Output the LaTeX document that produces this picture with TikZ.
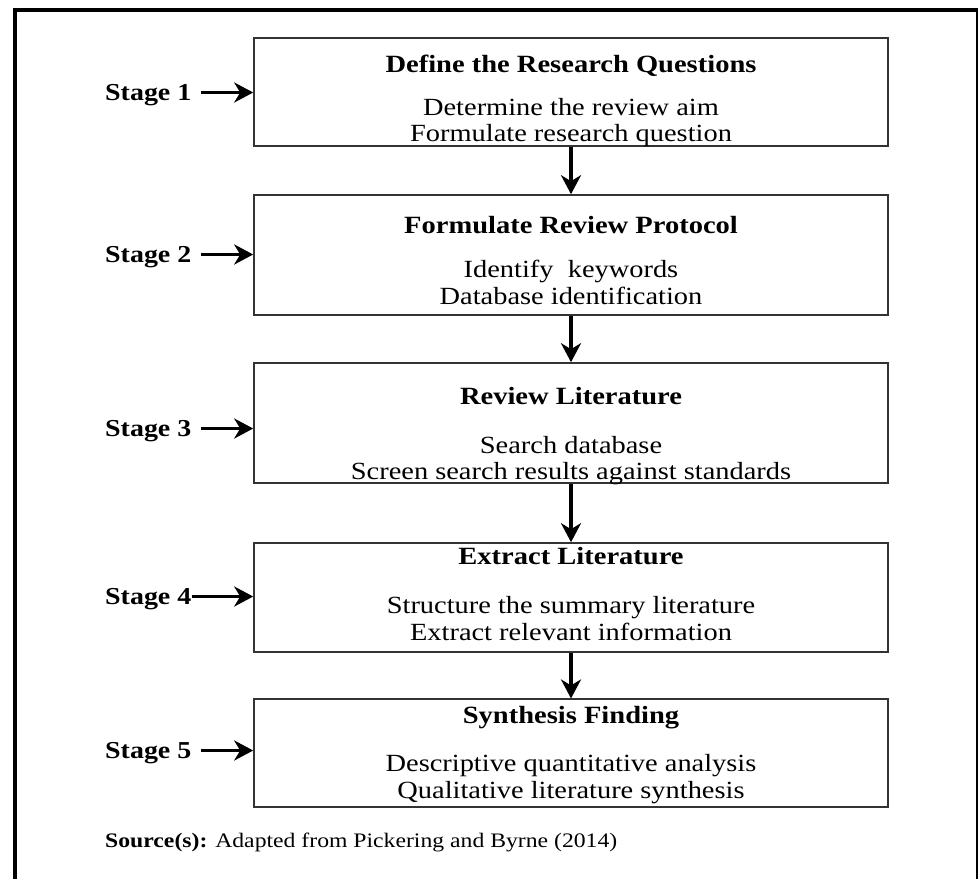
\documentclass[tikz,border=0pt]{standalone}
\usepackage{fontspec}
\usepackage{graphicx}
\setmainfont{Liberation Serif}[FakeStretch=1.15]
\newfontfamily\srcfont{Liberation Serif}[FakeStretch=1.15]
\usetikzlibrary{arrows.meta}
\begin{document}
\begin{tikzpicture}[x=1pt,y=-1pt,
  stagebox/.style={draw=black!80, line width=1.6pt, minimum width=634pt, inner sep=0pt},
  ttl/.style={font=\bfseries\fontsize{24.8}{28}\selectfont, anchor=base, inner sep=0pt},
  txt/.style={font=\fontsize{24.7}{28}\selectfont, anchor=base, inner sep=0pt},
  stg/.style={font=\bfseries\fontsize{24.3}{28}\selectfont, anchor=base west, inner sep=0pt, text height=15pt, text depth=0pt},
  srcnote/.style={font=\srcfont\fontsize{20.6}{24}\selectfont, anchor=base west, inner sep=0pt},
  arr/.style={line width=3.5pt, -{Stealth[length=19pt,width=20pt,inset=6pt]}},
]
\useasboundingbox (0,0) rectangle (979,879);
\fill[white] (0,0) rectangle (979,879);
% frame
\draw[line width=3.8pt] (15.3,879) -- (15.3,10) -- (977,10);
\draw[line width=2pt] (977,8.1) -- (977,879);

% boxes
\node[stagebox, minimum height=108pt] (b1) at (571,92) {};
\node[stagebox, minimum height=120pt] (b2) at (571,255) {};
\node[stagebox, minimum height=120pt] (b3) at (571,423) {};
\node[stagebox, minimum height=109pt] (b4) at (571,597.5) {};
\node[stagebox, minimum height=107.5pt] (b5) at (571,753) {};

% texts
\node[ttl] (t1) at (571,72) {Define the Research Questions};
\node[txt] (t1a) at (571,115) {Determine the review aim};
\node[txt] (t1b) at (571,141) {Formulate research question};

\node[ttl] (t2) at (571,233) {Formulate Review Protocol};
\node[txt] (t2a) at (571,277) {Identify~~keywords};
\node[txt] (t2b) at (571,304) {Database identification};

\node[ttl] (t3) at (571,404) {Review Literature};
\node[txt] (t3a) at (571,453) {Search database};
\node[txt] (t3b) at (571,479) {Screen search results against standards};

\node[ttl] (t4) at (571,564) {Extract Literature};
\node[txt] (t4a) at (571,613) {Structure the summary literature};
\node[txt] (t4b) at (571,640) {Extract relevant information};

\node[ttl] (t5) at (571,723) {Synthesis Finding};
\node[txt] (t5a) at (571,771) {Descriptive quantitative analysis};
\node[txt] (t5b) at (571,798) {Qualitative literature synthesis};

\node[srcnote] (srcline) at (105,847) {\resizebox{512pt}{!}{\textbf{Source(s):} Adapted from Pickering and Byrne (2014)}};

% stage labels
\node[stg] (s1) at (105,100) {Stage 1};
\node[stg] (s2) at (105,262) {Stage 2};
\node[stg] (s3) at (105,436) {Stage 3};
\node[stg] (s4) at (105,604) {Stage 4};
\node[stg] (s5) at (105,758) {Stage 5};

\draw[arr] ([xshift=9pt]s1.east) -- (s1.east -| b1.west);
\draw[arr] ([xshift=9pt]s2.east) -- (s2.east -| b2.west);
\draw[arr] ([xshift=9pt]s3.east) -- (s3.east -| b3.west);
\draw[arr] (s4.east) -- (s4.east -| b4.west);
\draw[arr] ([xshift=9pt]s5.east) -- (s5.east -| b5.west);

% flow arrows
\draw[arr] (b1.south) -- (b2.north);
\draw[arr] (b2.south) -- (b3.north);
\draw[arr] (b3.south) -- (b4.north);
\draw[arr] (b4.south) -- (b5.north);
\end{tikzpicture}
\end{document}
